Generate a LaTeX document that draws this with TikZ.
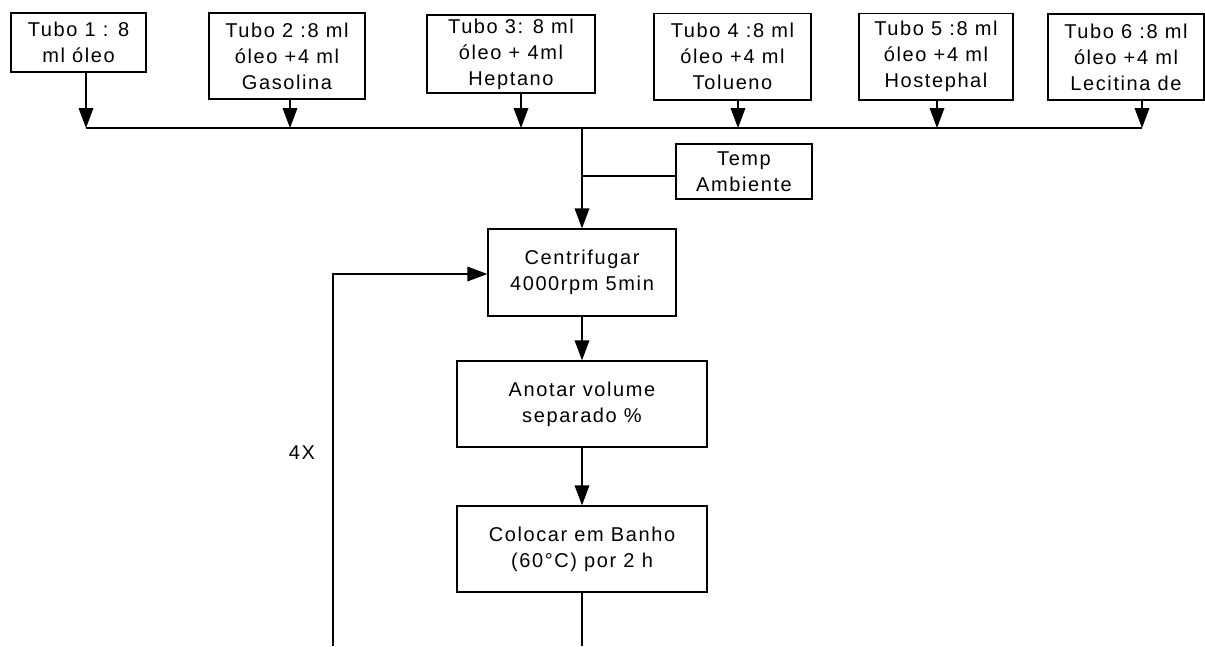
\documentclass[tikz,border=0pt]{standalone}
\usepackage{fontspec}
\setmainfont{Liberation Sans}[LetterSpace=8]
\usetikzlibrary{arrows.meta, positioning, calc}

\begin{document}
\begin{tikzpicture}[
    x=0.75pt, y=-0.75pt,
    >={Triangle[length=15pt, width=11pt]},
    line width=1pt,
    caixa/.style={draw, align=center, inner sep=0pt, font=\fontsize{15}{19.5}\selectfont},
    tubo/.style={caixa, minimum width=117pt, minimum height=65pt},
    passo/.style={caixa, minimum width=187.5pt, minimum height=64.5pt},
    rotulo/.style={font=\fontsize{15}{19.5}\selectfont}
]
\useasboundingbox (0,0) rectangle (1205,646);

% Y levels
\def\ybus{128}
\def\ytemp{176}
\def\yloop{274}
\def\ybottom{646}

% X positions
\def\xmain{582}
\def\xloop{333}

% ---------- Tubos ----------
\node[tubo, minimum width=101.25pt, minimum height=44.25pt] (T1) at (78.5,42.5) {Tubo 1 : 8\\ml óleo};
\node[tubo, minimum height=64.5pt] (T2) at (287,56) {Tubo 2 :8 ml\\óleo +4 ml\\Gasolina};
\node[tubo, minimum width=126pt, minimum height=58.5pt] (T3) at (511,54) {Tubo 3: 8 ml\\óleo + 4ml\\Heptano};
\node[tubo, minimum width=117.75pt] (T4) at (732.5,56.5) {Tubo 4 :8 ml\\óleo +4 ml\\Tolueno};
\node[tubo, minimum width=115.5pt] (T5) at (936,56.5) {Tubo 5 :8 ml\\óleo +4 ml\\Hostephal};
\node[tubo, minimum height=64.5pt] (T6) at (1126,57) {Tubo 6 :8 ml\\óleo +4 ml\\Lecitina de};

% ---------- Bus ----------
\foreach \i/\x in {1/86,2/290,3/521,4/738,5/937,6/1142} {
    \coordinate (b\i) at (\x,\ybus);
    \draw[->] (T\i.south -| b\i) -- (b\i);
}
\draw (b1) -- (b6);

% ---------- Passos ----------
\node[caixa, minimum width=102pt, minimum height=41.25pt] (Temp) at (744,171.5) {Temp\\Ambiente};
\node[caixa, minimum width=141pt, minimum height=65.25pt] (Centr) at (\xmain,272.5) {Centrifugar\\4000rpm 5min};
\node[passo] (Anot) at (\xmain,404) {Anotar volume\\separado \%};
\node[passo] (Banho) at (\xmain,549) {Colocar em Banho\\(60°C) por 2 h};

\node[rotulo] (vezes) at (302,453) {4X};

% ---------- Conexoes ----------
\coordinate (jbus) at (\xmain,\ybus);
\coordinate (jtemp) at (\xmain,\ytemp);
\draw[->] (jbus) -- (Centr.north);
\draw (jtemp) -- (jtemp -| Temp.west);
\draw[->] (Centr) -- (Anot);
\draw[->] (Anot) -- (Banho);

\coordinate (fim) at (\xmain,\ybottom);
\draw (Banho) -- (fim);

\coordinate (volta) at (\xloop,\ybottom);
\coordinate (canto) at (\xloop,\yloop);
\draw[->] (volta) -- (canto) -- (canto -| Centr.west);

\end{tikzpicture}
\end{document}
